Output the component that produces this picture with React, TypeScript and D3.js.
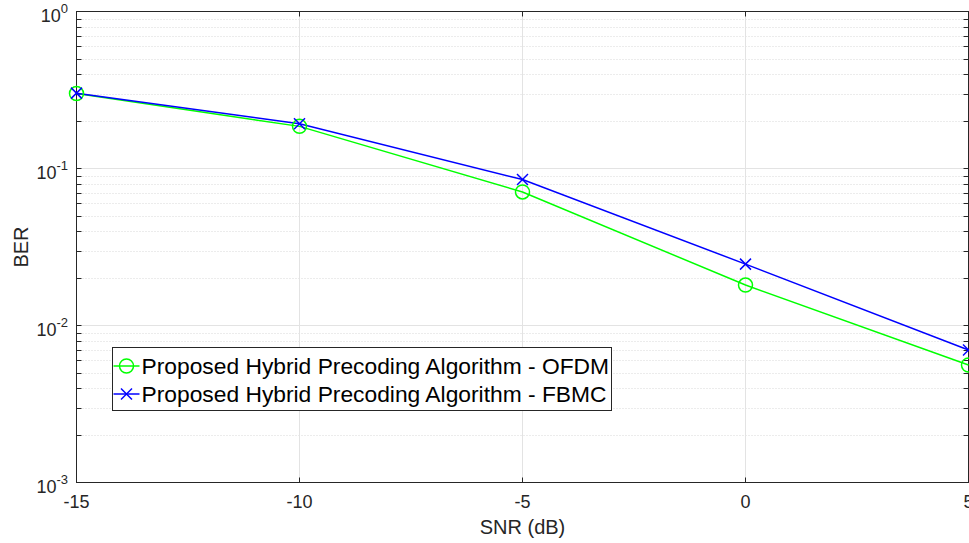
import React from "react";
import * as d3 from "d3";

const snr = [-15, -10, -5, 0, 5];
const berOFDM = [0.3, 0.1855, 0.0709, 0.0181, 0.0056];
const berFBMC = [0.302, 0.193, 0.085, 0.0246, 0.00698];
const xTicks = [-15, -10, -5, 0, 5];
const yExps = [0, -1, -2, -3];
const seriesNames = [
  "Proposed Hybrid Precoding Algorithm - OFDM",
  "Proposed Hybrid Precoding Algorithm - FBMC",
];

const W = 969;
const H = 543;
const L = 76.5, R = 968.5, T = 11.5, B = 482.5;

export default function App() {
  const x = d3.scaleLinear().domain([-15, 5]).range([L, R]);
  const y = d3.scaleLog().domain([1e-3, 1]).range([B, T]);
  const line = d3
    .line<[number, number]>()
    .x((d) => x(d[0]))
    .y((d) => y(d[1]));
  const ofdm: [number, number][] = snr.map((s, i) => [s, berOFDM[i]]);
  const fbmc: [number, number][] = snr.map((s, i) => [s, berFBMC[i]]);

  const minor: number[] = [];
  for (let e = -3; e < 0; e++) {
    for (let m = 2; m <= 9; m++) minor.push(m * Math.pow(10, e));
  }
  const axisColor = "#262626";
  const font = "'Liberation Sans', Arial, sans-serif";

  const cross = (cx: number, cy: number, s: number, color: string, k: string) => (
    <g key={k} stroke={color} strokeWidth={1.5}>
      <line x1={cx - s} y1={cy - s} x2={cx + s} y2={cy + s} />
      <line x1={cx - s} y1={cy + s} x2={cx + s} y2={cy - s} />
    </g>
  );

  const legX = 112.5, legY = 347.5, legW = 499, legH = 63;
  const rowY = [366, 394];

  return (
    <svg
      width={W}
      height={H}
      style={{ position: "fixed", left: 0, top: 0, background: "#fff" }}
      fontFamily={font}
    >
      <rect x={0} y={0} width={W} height={H} fill="#fff" />
      {/* minor grid */}
      {minor.map((v, i) => (
        <line
          key={"mg" + i}
          x1={L}
          x2={R}
          y1={Math.round(y(v)) + 0.5}
          y2={Math.round(y(v)) + 0.5}
          stroke="#d9d9d9"
          strokeWidth={1}
          strokeDasharray="1,2"
        />
      ))}
      {/* major grid */}
      {xTicks.map((t) => (
        <line key={"gx" + t} x1={x(t)} x2={x(t)} y1={T} y2={B} stroke="#e3e3e3" strokeWidth={1} />
      ))}
      {yExps.map((e) => (
        <line key={"gy" + e} x1={L} x2={R} y1={y(Math.pow(10, e))} y2={y(Math.pow(10, e))} stroke="#e3e3e3" strokeWidth={1} />
      ))}
      {/* axes box */}
      <rect x={L} y={T} width={R - L} height={B - T} fill="none" stroke={axisColor} strokeWidth={1} />
      {/* ticks */}
      {xTicks.map((t) => (
        <g key={"tx" + t} stroke={axisColor}>
          <line x1={x(t)} x2={x(t)} y1={B} y2={B - 5} />
          <line x1={x(t)} x2={x(t)} y1={T} y2={T + 5} />
        </g>
      ))}
      {yExps.map((e) => (
        <g key={"ty" + e} stroke={axisColor}>
          <line x1={L} x2={L + 5} y1={y(Math.pow(10, e))} y2={y(Math.pow(10, e))} />
          <line x1={R} x2={R - 5} y1={y(Math.pow(10, e))} y2={y(Math.pow(10, e))} />
        </g>
      ))}
      {minor.map((v, i) => (
        <g key={"tm" + i} stroke={axisColor}>
          <line x1={L} x2={L + 5} y1={Math.round(y(v)) + 0.5} y2={Math.round(y(v)) + 0.5} />
          <line x1={R} x2={R - 5} y1={Math.round(y(v)) + 0.5} y2={Math.round(y(v)) + 0.5} />
        </g>
      ))}
      {/* tick labels */}
      {xTicks.map((t) => (
        <text key={"lx" + t} x={x(t)} y={508} textAnchor="middle" fontSize={18} fill={axisColor}>
          {t}
        </text>
      ))}
      {yExps.map((e) => (
        <text key={"ly" + e} x={68} y={y(Math.pow(10, e)) + 10.5} textAnchor="end" fontSize={18} fill={axisColor}>
          10
          <tspan dy={-9} fontSize={13}>
            {e}
          </tspan>
        </text>
      ))}
      {/* axis labels */}
      <text x={(L + R) / 2} y={534} textAnchor="middle" fontSize={20} fill={axisColor}>
        SNR (dB)
      </text>
      <text
        transform={`translate(28,${(T + B) / 2}) rotate(-90)`}
        textAnchor="middle"
        fontSize={20}
        fill={axisColor}
      >
        BER
      </text>
      {/* series */}
      <path d={line(ofdm) || ""} fill="none" stroke="#00ff00" strokeWidth={1.5} />
      <path d={line(fbmc) || ""} fill="none" stroke="#0000ff" strokeWidth={1.5} />
      {ofdm.map((d, i) => (
        <circle key={"co" + i} cx={x(d[0])} cy={y(d[1])} r={7} fill="none" stroke="#00ff00" strokeWidth={1.5} />
      ))}
      {fbmc.map((d, i) => cross(x(d[0]), y(d[1]), 5.5, "#0000ff", "cf" + i))}
      {/* legend */}
      <rect x={legX} y={legY} width={legW} height={legH} fill="#fff" stroke={axisColor} strokeWidth={1} />
      <line x1={legX + 1} x2={legX + 27} y1={rowY[0]} y2={rowY[0]} stroke="#00ff00" strokeWidth={1.5} />
      <circle cx={legX + 14} cy={rowY[0]} r={7} fill="none" stroke="#00ff00" strokeWidth={1.5} />
      <line x1={legX + 1} x2={legX + 27} y1={rowY[1]} y2={rowY[1]} stroke="#0000ff" strokeWidth={1.5} />
      {cross(legX + 14, rowY[1], 5.5, "#0000ff", "lc")}
      {seriesNames.map((n, i) => (
        <text key={"ln" + i} x={legX + 29} y={rowY[i] + 8} fontSize={22.8} fill="#000">
          {n}
        </text>
      ))}
    </svg>
  );
}
